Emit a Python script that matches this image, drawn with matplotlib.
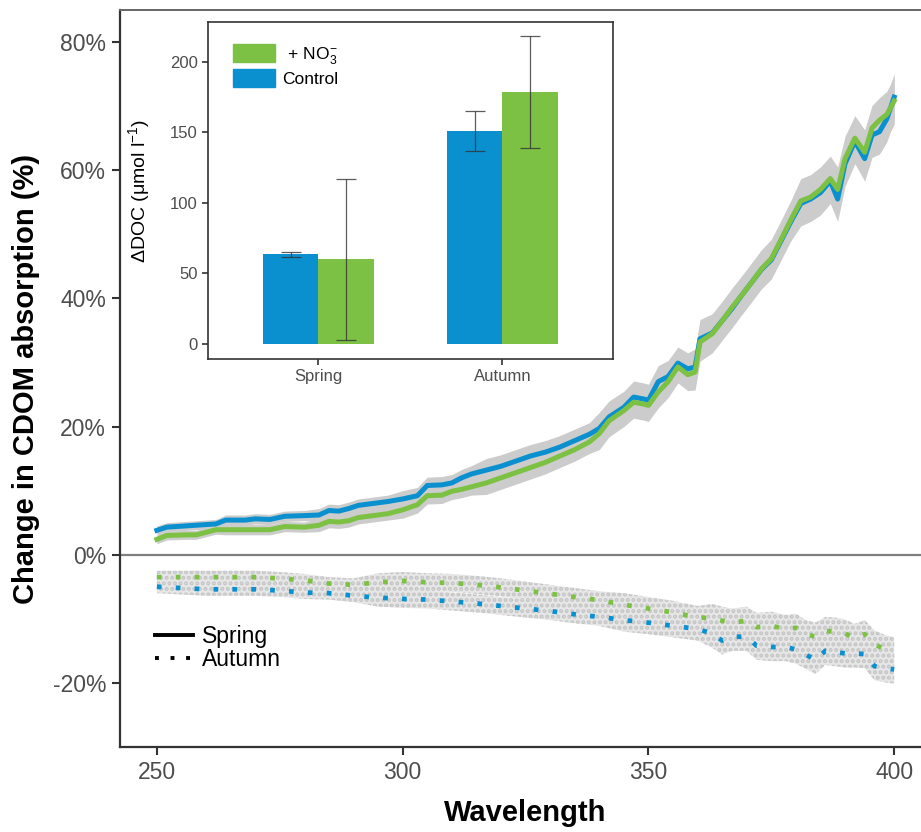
import numpy as np
import matplotlib
matplotlib.use("Agg")
import matplotlib.pyplot as plt
from matplotlib.lines import Line2D
from matplotlib.patches import Patch

plt.rcParams['font.family'] = ['Liberation Sans', 'DejaVu Sans']
plt.rcParams['mathtext.fontset'] = 'custom'
plt.rcParams['mathtext.rm'] = 'Liberation Sans'
plt.rcParams['hatch.linewidth'] = 2.0

blue = '#0A90CF'
green = '#7CC143'
band = '#CCCCCC'

# spring spectra (change in CDOM absorption, %)
wl_spring = [250, 252, 256, 258, 260, 262, 264, 268, 270, 273, 276, 280, 283, 285, 287, 289,
             291, 294, 297, 300, 303, 305, 308, 310, 312, 314, 317, 320, 323, 326, 329, 332,
             335, 338, 340, 342, 345, 347, 349, 350, 352, 354, 356, 358, 359.5, 360.5, 363,
             365, 367, 369, 371, 373, 375, 377, 379, 381, 383, 385, 387, 388.5, 390, 392,
             394, 395.5, 397, 398.5, 400]
spring_ctrl = [3.8, 4.3, 4.5, 4.6, 4.7, 4.8, 5.4, 5.4, 5.6, 5.5, 6.0, 6.1, 6.2, 6.9, 6.8, 7.2,
               7.7, 8.0, 8.3, 8.7, 9.2, 10.8, 10.9, 11.2, 12.0, 12.6, 13.2, 13.8, 14.6, 15.4, 16.0, 16.8,
               17.8, 18.8, 19.7, 21.5, 23.0, 24.6, 24.3, 24.1, 27.0, 27.8, 29.9, 29.0, 29.3, 33.7, 34.6,
               36.5, 38.4, 40.5, 42.5, 44.5, 46.0, 49.0, 52.0, 54.8, 55.5, 56.5, 58.3, 55.5, 61.0, 64.5,
               61.8, 65.5, 66.0, 68.0, 71.4]
spring_no3 = [2.4, 3.0, 3.1, 3.1, 3.5, 3.9, 3.9, 3.9, 3.9, 3.9, 4.4, 4.3, 4.6, 5.2, 5.1, 5.3,
              5.8, 6.1, 6.4, 7.0, 7.8, 9.2, 9.3, 9.9, 10.2, 10.6, 11.2, 12.0, 12.8, 13.6, 14.4, 15.4,
              16.4, 17.6, 18.9, 20.9, 22.5, 23.8, 23.5, 23.3, 25.4, 27.0, 29.3, 28.1, 28.5, 33.2, 34.5,
              36.5, 38.6, 40.5, 42.5, 44.6, 46.2, 49.2, 52.3, 55.2, 55.8, 57.0, 58.7, 57.0, 61.8, 65.0,
              62.8, 66.6, 67.8, 68.7, 70.8]
spring_err = [0.7, 0.7, 0.7, 0.7, 0.7, 0.7, 0.8, 0.8, 0.8, 0.8, 0.8, 0.8, 1.0, 1.0, 1.0, 1.0,
              1.0, 1.0, 1.0, 1.3, 1.3, 1.3, 1.3, 1.3, 1.3, 1.3, 1.8, 1.8, 1.8, 1.8, 1.8, 1.8,
              1.8, 1.8, 2.5, 2.5, 2.5, 2.5, 2.5, 2.5, 2.5, 2.5, 2.5, 2.5, 2.8, 3.0, 3.0,
              3.0, 3.0, 3.0, 3.0, 3.0, 3.0, 3.0, 3.0, 3.5, 3.5, 3.5, 3.5, 3.5, 3.5, 3.5,
              3.5, 3.5, 3.5, 3.6, 3.7]

# autumn spectra
wl_autumn = [250, 255, 260, 265, 270, 275, 280, 285, 290, 295, 300, 305, 310, 315, 320, 325,
             330, 335, 340, 345, 350, 355, 360, 363, 365, 367, 370, 372, 375, 378, 380, 382,
             384, 386, 388, 390, 392, 394, 396, 398, 400]
autumn_no3 = [-3.5, -3.5, -3.5, -3.5, -3.5, -3.7, -4.0, -4.5, -4.7, -4.3, -4.1, -4.3, -4.4, -4.7,
              -5.1, -5.6, -6.1, -6.6, -7.1, -7.8, -8.4, -9.0, -9.8, -9.9, -10.3, -10.6, -10.3,
              -11.3, -11.1, -11.6, -11.4, -12.4, -12.8, -11.9, -12.0, -12.3, -13.0, -12.4, -14.0,
              -14.7, -15.1]
autumn_ctrl = [-5.0, -5.2, -5.4, -5.4, -5.4, -5.6, -5.9, -6.0, -6.4, -6.7, -6.9, -7.0, -7.3, -7.6,
               -8.0, -8.4, -8.8, -9.3, -9.7, -10.2, -10.6, -11.1, -11.6, -12.3, -13.4, -12.8, -12.8,
               -14.2, -14.4, -14.4, -14.8, -15.6, -16.4, -15.0, -15.2, -15.4, -15.4, -15.5, -17.4,
               -17.7, -17.9]
autumn_err = [1.0, 1.0, 1.0, 1.0, 1.0, 1.0, 1.0, 1.0, 1.0, 1.4, 1.4, 1.4, 1.4, 1.4, 1.4, 1.4,
              1.4, 1.4, 1.4, 1.8, 1.8, 1.8, 1.8, 2.2, 2.2, 2.2, 2.2, 2.2, 2.2, 2.2, 2.2, 2.2,
              2.2, 2.2, 2.2, 2.2, 2.2, 2.2, 2.2, 2.2, 2.2]

yticks = [-20, 0, 20, 40, 60, 80]
ytick_labels = ['-20%', '0%', '20%', '40%', '60%', '80%']
xticks = [250, 300, 350, 400]

# inset: delta DOC
seasons = ['Spring', 'Autumn']
doc_ctrl = [63.3, 150.8]
doc_ctrl_err = [2.0, 14.2]
doc_no3 = [59.7, 178.5]
doc_no3_err = [57.0, 39.5]

fig = plt.figure(figsize=(9.21, 8.32), dpi=100)
ax = fig.add_axes([0.1303, 0.1022, 0.8806, 0.8858])

x_s = np.array(wl_spring)
x_a = np.array(wl_autumn)
for vals in (spring_ctrl, spring_no3):
    v = np.array(vals)
    e = np.array(spring_err)
    ax.fill_between(x_s, v - e, v + e, color=band, lw=0, zorder=1)
for vals in (autumn_ctrl, autumn_no3):
    v = np.array(vals)
    e = np.array(autumn_err)
    ax.fill_between(x_a, v - e, v + e, facecolor='#E6E6E6', edgecolor='#C4C4C4',
                    hatch='...', lw=0, zorder=1)

ax.axhline(0, color='#7F7F7F', lw=1.6, zorder=2)

ax.plot(x_s, spring_ctrl, color=blue, lw=3.6, zorder=3, solid_joinstyle='round')
ax.plot(x_s, spring_no3, color=green, lw=3.6, zorder=4, solid_joinstyle='round')
ax.plot(x_a, autumn_ctrl, color=blue, lw=3.4, ls=(0, (1, 3)), dash_capstyle='butt', zorder=3)
ax.plot(x_a, autumn_no3, color=green, lw=3.4, ls=(0, (1, 3)), dash_capstyle='butt', zorder=4)

ax.set_xlim(242.5, 407.5)
ax.set_ylim(-30, 85)
ax.set_xticks(xticks)
ax.set_yticks(yticks)
ax.set_yticklabels(ytick_labels)
ax.tick_params(axis='both', direction='out', length=6, width=1.5, color='#333333',
               labelcolor='#4D4D4D', labelsize=16.5, pad=4)
for side in ('left', 'bottom'):
    ax.spines[side].set_color('#333333')
    ax.spines[side].set_linewidth(1.6)
ax.spines['top'].set_color('#666666')
ax.spines['top'].set_linewidth(1.4)
ax.spines['right'].set_visible(False)

ax.set_xlabel('Wavelength', fontsize=21, fontweight='bold')
ax.set_ylabel('Change in CDOM absorption (%)', fontsize=21, fontweight='bold')
ax.xaxis.set_label_coords(0.5, -0.071)
ax.yaxis.set_label_coords(-0.099, 0.5)

leg_handles = [Line2D([], [], color='black', lw=2.8),
               Line2D([], [], color='black', lw=2.8, ls=(0, (1, 3)), dash_capstyle='butt')]
ax.legend(leg_handles, ['Spring', 'Autumn'], loc='upper left', bbox_to_anchor=(0.043, 0.165),
          frameon=False, fontsize=16.5, handlelength=1.65, handletextpad=0.4,
          labelspacing=0.0, borderpad=0, borderaxespad=0)

# inset bar chart
ins = fig.add_axes([0.2258, 0.5685, 0.4397, 0.4050])
pos = np.arange(1, len(seasons) + 1)
w = 0.3
ins.bar(pos - w / 2, doc_ctrl, w, color=blue, zorder=2)
ins.bar(pos + w / 2, doc_no3, w, color=green, zorder=2)
ins.errorbar(pos - w / 2, doc_ctrl, yerr=doc_ctrl_err, fmt='none', ecolor='#333333',
             elinewidth=0.9, capsize=7, capthick=0.9, alpha=0.8, zorder=3)
ins.errorbar(pos + w / 2, doc_no3, yerr=doc_no3_err, fmt='none', ecolor='#333333',
             elinewidth=0.9, capsize=7, capthick=0.9, alpha=0.8, zorder=3)
ins.set_xlim(0.4, 2.6)
ins.set_ylim(-10.9, 228)
ins.set_xticks(pos)
ins.set_xticklabels(seasons)
ins.set_yticks([0, 50, 100, 150, 200])
ins.tick_params(axis='both', direction='out', length=4, width=1.2, color='#333333',
                labelcolor='#4D4D4D', labelsize=12)
for s in ins.spines.values():
    s.set_color('#333333')
    s.set_linewidth(1.2)
ins.set_ylabel('ΔDOC (μmol l$^{-1}$)', fontsize=14)
ins.yaxis.set_label_coords(-0.136, 0.5)

ins_handles = [Patch(color=green), Patch(color=blue)]
ins.legend(ins_handles, [r' + NO$_3^{-}$', 'Control'], loc='upper left',
           bbox_to_anchor=(0.062, 0.935), frameon=False, fontsize=12.5,
           handlelength=2.4, handleheight=1.2, handletextpad=0.45, labelspacing=0.2,
           borderpad=0, borderaxespad=0)

fig.savefig('out.png', dpi=100)
